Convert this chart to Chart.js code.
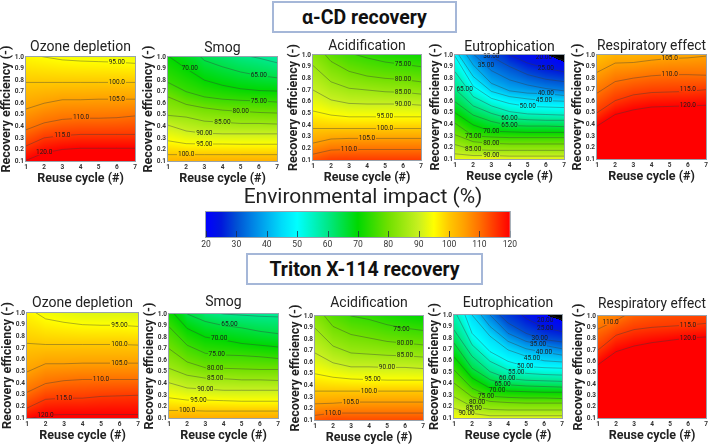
<!DOCTYPE html>
<html><head><meta charset="utf-8">
<script src="https://cdn.jsdelivr.net/npm/chart.js@4"></script>
<style>
html,body{margin:0;padding:0;background:#fff;width:709px;height:444px;overflow:hidden;position:relative}
canvas{position:absolute}
.box{position:absolute;box-sizing:border-box;border:2px solid #a5b7d8;font:bold 19.5px Roboto,sans-serif;color:#111;display:flex;align-items:center;justify-content:center}
</style></head><body>
<div class="box" style="left:272px;top:1px;width:185px;height:32px">α-CD recovery</div>
<div class="box" style="left:246px;top:253px;width:237px;height:32px">Triton X-114 recovery</div>
<script>
// ---------- axes ----------
const reuseCycles=[1,2,3,4,5,6,7];
const colorbarTicks=[20,30,40,50,60,70,80,90,100,110,120];
const colorValues=[20,25,30,35,40,45,50,60,70,80,90,95,100,105,110,120];
const colorHex=['#0000ff','#0018dc','#0050d4','#0080e4','#00aef0','#00dcfa','#00ffff','#00e888','#00d800','#70e000','#c8f020','#ffff00','#ffc800','#ffa000','#ff7000','#ff0000'];
const panelTitles=['Ozone depletion','Smog','Acidification','Eutrophication','Respiratory effect'];
// ---------- contours: level, efficiency at each reuse cycle; labels: text, cycle, efficiency ----------
const levelsOzoneA=[95,100,105,110,115,120];
const linesOzoneA=[[1.03,1,.975,.965,.96,.955,.945],[.78,.78,.78,.78,.78,.78,.78],[.55,.6,.63,.63,.635,.635,.635],[.37,.43,.46,.47,.47,.475,.49],[.23,.3,.32,.33,.33,.33,.33],[.105,.17,.2,.21,.21,.21,.21]];
const labelsOzoneA=[['95.00',6,.953],['100.0',6,.783],['105.0',6,.635],['110.0',4.03,.476],['115.0',3,.326],['120.0',2,.172]];
const levelsSmogA=[60,65,70,75,80,85,90,95,100];
const linesSmogA=[[1.5,1.3,1.15,1.08,1.02,.99,.95],[1.3,1.12,.97,.915,.87,.84,.82],[1.01,.9,.8,.755,.725,.71,.705],[.78,.7,.655,.635,.625,.62,.61],[.655,.59,.56,.54,.53,.52,.515],[.495,.48,.445,.435,.425,.425,.42],[.41,.36,.34,.335,.335,.335,.335],[.275,.25,.247,.247,.245,.245,.245],[.155,.155,.155,.155,.155,.155,.155]];
const labelsSmogA=[['70.00',2.2,.9],['65.00',6,.84],['75.00',6,.62],['80.00',5,.53],['85.00',4,.435],['90.00',3,.34],['95.00',3,.247],['100.0',2,.16]];
const levelsAcidA=[75,80,85,90,95,100,105,110];
const linesAcidA=[[1.2,1.1,1.02,.975,.94,.92,.9],[1.12,.945,.86,.82,.8,.79,.77],[.91,.77,.715,.7,.685,.68,.665],[.7,.615,.585,.58,.58,.58,.57],[.52,.485,.47,.47,.47,.47,.47],[.37,.37,.37,.37,.37,.37,.37],[.245,.28,.285,.285,.285,.285,.285],[.15,.185,.19,.19,.19,.19,.19]];
const labelsAcidA=[['75.00',6,.92],['80.00',6,.79],['85.00',6,.68],['90.00',6,.58],['95.00',5,.47],['100.0',5,.37],['105.0',4,.285],['110.0',3,.19]];
const levelsEutroA=[20,25,30,35,40,45,50,55,60,65,70,75,80,85,90];
const linesEutroA=[[2,2,1.5,1.2,1.08,1.02,.95],[1.6,1.4,1.2,1,.93,.885,.855],[1.4,1.2,.985,.9,.83,.79,.77],[1.25,1.01,.865,.785,.74,.71,.69],[1.15,.915,.755,.69,.67,.665,.65],[1.05,.815,.685,.64,.62,.605,.6],[.99,.73,.625,.58,.555,.55,.545],[.855,.64,.56,.51,.49,.485,.48],[.705,.56,.495,.45,.44,.435,.435],[.595,.48,.425,.39,.385,.385,.38],[.5,.395,.34,.335,.33,.33,.33],[.41,.3,.29,.285,.285,.285,.285],[.31,.25,.235,.23,.23,.23,.23],[.225,.18,.175,.175,.175,.175,.175],[.145,.13,.13,.125,.125,.125,.125]];
const labelsEutroA=[['20.00',5.9,.98],['25.00',6,.885],['30.00',3,.985],['35.00',2.7,.91],['40.00',6,.665],['45.00',5.9,.605],['50.00',5,.555],['65.00',1.53,.704],['60.00',4,.45],['65.00',4,.39],['70.00',3,.34],['75.00',2,.3],['80.00',3,.235],['85.00',2,.18],['90.00',3,.13]];
const levelsRespA=[105,110,115,120];
const linesRespA=[[.85,.93,.935,.955,.97,.975,.99],[.67,.77,.8,.82,.83,.83,.825],[.5,.605,.655,.675,.68,.685,.7],[.385,.485,.525,.55,.555,.56,.565]];
const labelsRespA=[['105.0',5,.97],['110.0',5,.83],['115.0',6,.7],['120.0',6,.56]];
const levelsOzoneB=[95,100,105,110,115,120];
const linesOzoneB=[[1.05,.95,.92,.9,.895,.895,.885],[.74,.73,.73,.73,.73,.73,.725],[.495,.565,.565,.57,.57,.57,.57],[.32,.395,.42,.43,.43,.43,.43],[.185,.26,.27,.27,.285,.29,.295],[.09,.125,.13,.13,.13,.13,.13]];
const labelsOzoneB=[['95.00',6,.895],['100.0',6,.73],['105.0',6,.57],['110.0',5,.43],['115.0',3,.27],['120.0',2,.125]];
const levelsSmogB=[60,65,70,75,80,85,90,95,100];
const linesSmogB=[[1.6,1.3,1.03,1,.99,.98,.975],[1.3,1,.935,.9,.88,.85,.83],[1.05,.875,.8,.775,.745,.73,.715],[.89,.73,.66,.645,.64,.63,.615],[.7,.585,.535,.53,.525,.52,.52],[.53,.47,.445,.44,.43,.43,.425],[.405,.36,.35,.34,.34,.34,.34],[.275,.255,.255,.25,.245,.245,.245],[.165,.165,.16,.16,.16,.16,.16]];
const labelsSmogB=[['65.00',4.33,.91],['70.00',3.76,.785],['75.00',3.63,.65],['80.00',3.54,.53],['85.00',3.54,.44],['90.00',3,.35],['95.00',2.62,.255],['100.0',2,.165]];
const levelsAcidB=[75,80,85,90,95,100,105,110];
const linesAcidB=[[1.2,1.1,1,.97,.925,.895,.875],[1.1,.91,.84,.81,.78,.765,.75],[.895,.74,.68,.67,.66,.655,.645],[.68,.595,.56,.56,.555,.555,.545],[.5,.47,.455,.45,.445,.445,.445],[.35,.35,.35,.35,.35,.35,.35],[.24,.245,.255,.255,.255,.255,.255],[.14,.16,.16,.16,.16,.16,.16]];
const labelsAcidB=[['75.00',5.8,.88],['80.00',6,.765],['85.00',6,.655],['90.00',5,.555],['95.00',4.2,.45],['100.0',4,.35],['105.0',3,.255],['110.0',2,.16]];
const levelsEutroB=[20,25,30,35,40,45,50,55,60,65,70,75,80,85,90];
const linesEutroB=[[2,1.8,1.4,1.2,1.1,1.02,.96],[1.6,1.4,1.2,1.1,.97,.89,.855],[1.5,1.3,1.08,.93,.84,.785,.765],[1.4,1.2,1,.84,.77,.735,.705],[1.3,1.1,.9,.77,.705,.675,.65],[1.25,1,.815,.695,.64,.6,.59],[1.25,.84,.68,.595,.55,.54,.535],[1.05,.74,.595,.52,.49,.48,.475],[.87,.64,.505,.445,.43,.425,.42],[.755,.535,.435,.39,.38,.375,.37],[.635,.45,.36,.335,.33,.325,.325],[.52,.36,.29,.28,.275,.275,.27],[.405,.285,.245,.235,.23,.23,.23],[.285,.2,.175,.17,.17,.17,.17],[.185,.14,.12,.12,.12,.12,.12]];
const labelsEutroB=[['20.00',6.07,.955],['25.00',6.07,.885],['30.00',5.76,.795],['35.00',5.67,.74],['40.00',6,.675],['45.00',5.33,.62],['50.00',4.96,.555],['55.00',4.46,.5],['60.00',3.96,.445],['65.00',3.7,.395],['70.00',3.4,.345],['75.00',2.78,.29],['80.00',2.28,.24],['85.00',2.1,.18],['90.00',1.7,.14]];
const levelsRespB=[110,115,120];
const linesRespB=[[.885,.96,1.05,1.1,1.15,1.2,1.25],[.7,.83,.88,.9,.91,.92,.935],[.57,.685,.735,.765,.785,.805,.815]];
const labelsRespB=[['110.0',1.7,.94],['115.0',6,.92],['120.0',6,.805]];
// ---------- layout (plot left, top, right, bottom, title gap) ----------
const W=27,BH=25;
const panels=[
 [levelsOzoneA,linesOzoneA,labelsOzoneA,0,[26,57,135,161,10]],
 [levelsSmogA,linesSmogA,labelsSmogA,1,[168,57,277,161,9]],
 [levelsAcidA,linesAcidA,labelsAcidA,2,[313,55,421,160,9]],
 [levelsEutroA,linesEutroA,labelsEutroA,3,[455,55,564,159,8]],
 [levelsRespA,linesRespA,labelsRespA,4,[597,55,706,159,9]],
 [levelsOzoneB,linesOzoneB,labelsOzoneB,0,[27,313,138,418,10]],
 [levelsSmogB,linesSmogB,labelsSmogB,1,[169,314,278,418,12]],
 [levelsAcidB,linesAcidB,labelsAcidB,2,[315,316,423,420,13]],
 [levelsEutroB,linesEutroB,labelsEutroB,3,[454,315,562,418,12]],
 [levelsRespB,linesRespB,labelsRespB,4,[598,316,706,418,12]]
];
const colorRGB=colorHex.map(h=>[1,3,5].map(i=>parseInt(h.substr(i,2),16)));
function colorOf(v){
  if(v<20.5)return [0,0,0];
  for(let i=1;i<colorValues.length;i++){
    if(v<=colorValues[i]){const t=(v-colorValues[i-1])/(colorValues[i]-colorValues[i-1]);const a=colorRGB[i-1],b=colorRGB[i];
      return [a[0]+(b[0]-a[0])*t,a[1]+(b[1]-a[1])*t,a[2]+(b[2]-a[2])*t];}
  }
  return colorRGB[colorRGB.length-1];
}
// value at (cycle, eff): contours are followed across cycles, then levels are read along the efficiency axis
function columnAt(levels,lines,x){
  const k=Math.min(5,Math.max(0,Math.floor(x-1))),t=x-1-k;
  return lines.map((l,i)=>[l[k]+(l[k+1]-l[k])*t,levels[i]]).sort((a,b)=>a[0]-b[0]);
}
function valueIn(col,y){
  const n=col.length;
  const seg=(a,b)=>{const dy=Math.max(b[0]-a[0],.004);return a[1]+(b[1]-a[1])*(y-a[0])/dy;};
  if(y<=col[0][0])return n>1?seg(col[0],col[1]):col[0][1];
  for(let i=1;i<n;i++)if(y<=col[i][0])return seg(col[i-1],col[i]);
  return n>1?seg(col[n-2],col[n-1]):col[n-1][1];
}
const fieldPlugin={id:'field',
 beforeDatasetsDraw(c,_,o){
  const a=c.chartArea,xs=c.scales.x,ys=c.scales.y,ctx=c.ctx;
  const X0=Math.round(a.left),Y0=Math.round(a.top),w=Math.round(a.right)-X0,h=Math.round(a.bottom)-Y0;
  const img=ctx.createImageData(w,h);
  for(let i=0;i<w;i++){
    const col=columnAt(o.levels,o.lines,xs.getValueForPixel(X0+i+.5));
    for(let j=0;j<h;j++){
      const rgb=colorOf(valueIn(col,ys.getValueForPixel(Y0+j+.5))),p=(j*w+i)*4;
      img.data[p]=rgb[0];img.data[p+1]=rgb[1];img.data[p+2]=rgb[2];img.data[p+3]=255;
    }
  }
  ctx.putImageData(img,X0,Y0);
  c.$field={img,X0,Y0,w,h};
 },
 afterDatasetsDraw(c,_,o){
  const ctx=c.ctx,f=c.$field,xs=c.scales.x,ys=c.scales.y;
  ctx.save();ctx.font='6.5px Roboto';ctx.textAlign='center';ctx.textBaseline='middle';ctx.fillStyle='#1c1c1c';
  o.labels.forEach(l=>{
    const px=xs.getPixelForValue(l[1]),py=ys.getPixelForValue(l[2]),tw=ctx.measureText(l[0]).width+2;
    const dx=Math.max(0,Math.round(px-tw/2-f.X0)),dy=Math.max(0,Math.round(py-2-f.Y0));
    ctx.putImageData(f.img,f.X0,f.Y0,dx,dy,Math.round(tw),4);
  });
  o.labels.forEach(l=>ctx.fillText(l[0],xs.getPixelForValue(l[1]),ys.getPixelForValue(l[2])));
  ctx.strokeStyle='#98a3ad';ctx.lineWidth=1;
  ctx.strokeRect(f.X0-.5,f.Y0-.5,f.w+1,f.h+1);
  ctx.restore();
 }
};
function addCanvas(l,t,w,h){
  const cv=document.createElement('canvas');cv.width=w;cv.height=h;
  cv.style.left=l+'px';cv.style.top=t+'px';cv.style.width=w+'px';cv.style.height=h+'px';
  document.body.appendChild(cv);return cv;
}
const tickFont={family:'Roboto',size:6.5,weight:'bold'};
const axisFont={family:'Roboto',size:12.5,weight:'bold'};
panels.forEach(([levels,lines,labels,ti,[L,T,R,B,gap]])=>{
  const TH=Math.round(gap+8.4),titlePad=TH-16.8;
  const cv=addCanvas(L-W,T-TH,R-L+2*W,B-T+TH+BH);
  new Chart(cv,{type:'scatter',
   data:{datasets:levels.map((lev,i)=>({label:String(lev),showLine:true,pointRadius:0,borderColor:'rgba(55,60,60,.5)',borderWidth:.8,tension:0,
     data:reuseCycles.map((x,k)=>({x,y:lines[i][k]}))}))},
   plugins:[fieldPlugin],
   options:{responsive:false,animation:false,devicePixelRatio:1,
    layout:{padding:{left:0,right:W,top:0,bottom:0}},
    plugins:{legend:{display:false},tooltip:{enabled:false},
     title:{display:true,fullSize:false,text:panelTitles[ti],color:'#222',font:{family:'Roboto',size:14,weight:'normal',lineHeight:1.2},padding:{top:0,bottom:titlePad}},
     field:{levels,lines,labels}},
    scales:{
     x:{type:'linear',min:1,max:7,grid:{display:false,drawTicks:false},border:{display:false},
      ticks:{stepSize:1,font:tickFont,color:'#333',padding:2,maxRotation:0,autoSkip:false,callback:v=>String(v)},
      title:{display:true,text:'Reuse cycle (#)',color:'#222',font:axisFont,padding:0},
      afterFit:s=>{s.height=BH;}},
     y:{type:'linear',min:.1,max:1,grid:{display:false,drawTicks:false},border:{display:false},
      ticks:{stepSize:.1,font:tickFont,color:'#333',padding:2,autoSkip:false,callback:v=>v.toFixed(1)},
      title:{display:true,text:'Recovery efficiency (-)',color:'#222',font:axisFont,padding:0},
      afterFit:s=>{s.width=W;}}
    }}});
});
// ---------- colour bar ----------
const barPlugin={id:'bar',
 beforeDatasetsDraw(c){
  const a=c.chartArea,xs=c.scales.x,ctx=c.ctx;
  const g=ctx.createLinearGradient(a.left,0,a.right,0);
  colorValues.forEach((v,i)=>g.addColorStop((xs.getPixelForValue(v)-a.left)/(a.right-a.left),colorHex[i]));
  ctx.fillStyle=g;ctx.fillRect(a.left,a.top,a.right-a.left,a.bottom-a.top);
 },
 afterDatasetsDraw(c){
  const a=c.chartArea,xs=c.scales.x,ctx=c.ctx;
  ctx.save();ctx.strokeStyle='rgba(30,40,70,.75)';ctx.lineWidth=1;ctx.beginPath();
  xs.ticks.forEach(t=>{const p=Math.round(xs.getPixelForValue(t.value))+.5;ctx.moveTo(p,a.bottom-6);ctx.lineTo(p,a.bottom);});
  ctx.stroke();ctx.strokeStyle='#98a3ad';ctx.strokeRect(a.left-.5,a.top-.5,a.right-a.left+1,a.bottom-a.top+1);ctx.restore();
 }
};
(function(){
  const L=206,T=212,R=510,B=237,TH=27,padL=10,padR=10,BHbar=14;
  const cv=addCanvas(L-padL,T-TH,R-L+padL+padR,B-T+TH+BHbar);
  new Chart(cv,{type:'scatter',
   data:{datasets:[{label:'Environmental impact (%)',pointRadius:0,data:colorValues.map(x=>({x,y:0}))}]},
   plugins:[barPlugin],
   options:{responsive:false,animation:false,devicePixelRatio:1,
    layout:{padding:{left:padL,right:0,top:0,bottom:0}},
    plugins:{legend:{display:false},tooltip:{enabled:false},
     title:{display:true,text:'Environmental impact (%)',color:'#222',font:{family:'Roboto',size:21,weight:'normal',lineHeight:1.2},padding:{top:0,bottom:TH-25.2}}},
    scales:{
     x:{type:'linear',min:colorbarTicks[0],max:colorbarTicks[colorbarTicks.length-1],grid:{display:false,drawTicks:false},border:{display:false},
      ticks:{stepSize:10,font:{family:'Roboto',size:8.5},color:'#333',padding:3,maxRotation:0,autoSkip:false},afterFit:s=>{s.height=BHbar;}},
     y:{display:false,min:-1,max:1},
     y2:{axis:'y',position:'right',min:-1,max:1,grid:{display:false,drawTicks:false},border:{display:false},ticks:{display:false},afterFit:s=>{s.width=padR;}}
    }}});
})();
</script>
</body></html>
